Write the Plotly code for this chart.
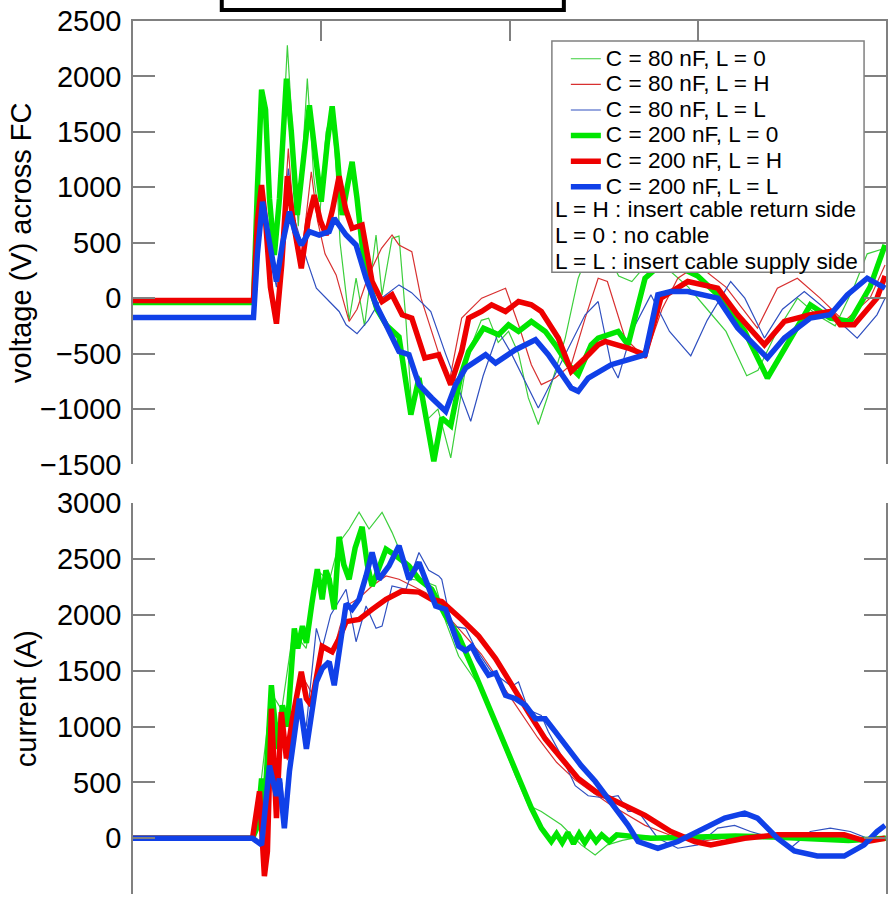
import plotly.graph_objects as go

# ---------------- voltage across FC (V) vs time (us) ----------------
t_v80_0 = [0, 6.4, 6.61, 6.83, 7.04, 7.3, 7.55, 7.85, 8.2, 8.5, 8.78, 9.26, 9.6, 9.9, 10.26, 10.58, 10.85, 11.0, 11.2, 11.48,
           11.85, 12.3, 12.91, 13.23, 13.76, 14.13, 14.5, 14.81, 15.2, 15.6, 16.2, 16.88, 17.3, 17.8, 18.5, 18.89, 19.4,
           19.95, 20.48, 21.0, 21.53, 22.0, 22.96, 23.65, 24.0, 24.5, 25.2, 25.8, 26.5, 27.5, 28.5, 29.5, 30.5, 31.5,
           32.6, 33.2, 34.2, 35.3, 36.3, 37.3, 38.3, 39.0, 39.95]
v80_0 = [-40, -40, 900, 1850, 1650, 800, 420, 1100, 2280, 1400, 650, 1980, 1100, 700, 1500, 1700, 1000, 500, 210, -200,
         180, -250, 570, 30, 540, 560, -200, -1000, -700, -1100, -1000, -1440, -1000, -500, -200, -180, -400,
         -300, -500, -900, -1140, -900, -360, 180, 330, 500, 400, 200, 150, 350, 250, 100, -100, -300,
         -700, -650, -300, 0, -150, -250, 100, 400, 450]

t_v80_h = [0, 6.4, 6.61, 6.83, 7.04, 7.3, 7.6, 7.9, 8.25, 8.5, 8.9, 9.47, 9.8, 10.2, 10.79, 11.48, 11.9, 12.5, 13.2,
           13.76, 14.13, 14.81, 15.3, 16.4, 16.77, 17.46, 18.52, 19.79, 20.48, 21.16, 21.69, 22.43, 23.28, 24.02,
           24.71, 25.2, 26.14, 27.2, 28.1, 28.94, 30.0, 31.5, 33.17, 34.23, 35.29, 36.5, 37.78, 39.15, 39.95]
v80_h = [-20, -20, 600, 1000, 600, 0, -200, 400, 1350, 800, 300, 1140, 700, 400, 210, -210, -100, 200, 450,
         570, 480, 420, 0, -600, -780, -180, 0, 90, -240, -600, -780, -720, -600, -180,
         180, 150, -360, -540, -100, 180, 300, 100, -270, 90, 180, 0, -210, 0, 300]

t_v80_l = [0, 6.4, 6.61, 6.88, 7.15, 7.62, 7.95, 8.25, 8.6, 9.26, 9.74, 10.26, 10.95, 11.32, 11.9, 12.5, 13.2, 14.13,
           14.8, 15.82, 16.6, 17.94, 18.6, 19.42, 20.1, 21.53, 22.4, 24.02, 24.71, 25.4, 25.77, 26.5, 27.51, 28.5,
           29.63, 30.5, 31.75, 32.5, 33.54, 34.5, 35.66, 36.8, 38.47, 39.52, 39.95]
v80_l = [-175, -175, 500, 870, 500, 100, 600, 1170, 700, 330, 90, 0, -120, -240, -320, -200, 0, 120,
         50, -120, -500, -1110, -700, -300, -500, -990, -700, -150, -30, -600, -720, -300, 30, -300,
         -520, -200, 150, 0, -360, -100, 60, -100, -360, -150, 0]

t_v200_0 = [0, 6.4, 6.61, 6.83, 7.04, 7.25, 7.51, 7.78, 8.15, 8.41, 8.73, 9.05, 9.37, 9.68, 10.0, 10.32, 10.58, 10.85,
            11.11, 11.38, 11.64, 11.9, 12.17, 12.43, 12.96, 13.49, 14.13, 14.76, 15.19, 15.98, 16.4, 16.88, 17.41,
            17.83, 18.62, 19.42, 19.95, 20.48, 21.16, 21.9, 22.43, 23.12, 23.65, 24.34, 24.71, 25.77, 26.3, 27.2,
            28.0, 29.0, 30.0, 31.06, 32.5, 33.7, 34.92, 35.98, 37.04, 38.1, 39.15, 39.95]
v200_0 = [-40, -40, 1000, 1880, 1700, 900, 390, 900, 1980, 1500, 750, 1300, 1740, 1300, 870, 1400, 1730, 1300,
          750, 1000, 1230, 900, 480, 200, -100, -250, -350, -1050, -720, -1470, -1080, -1150, -700,
          -480, -270, -330, -240, -300, -210, -300, -420, -600, -690, -420, -360, -300, -420, 180,
          300, 280, 200, 30, -300, -720, -360, -60, -180, -210, 100, 480]

t_v200_h = [0, 6.4, 6.61, 6.83, 7.04, 7.3, 7.62, 7.9, 8.2, 8.5, 8.94, 9.3, 9.63, 9.95, 10.26, 10.6, 10.95, 11.3, 11.64,
            12.17, 12.7, 13.23, 13.76, 14.3, 14.81, 15.5, 16.24, 16.88, 17.46, 17.83, 18.52, 19.05, 19.79, 20.48,
            21.16, 21.69, 22.59, 23.28, 24.02, 24.71, 25.08, 26.3, 27.2, 28.04, 29.47, 31.06, 32.12, 33.54, 34.6,
            35.98, 37.04, 37.57, 38.31, 39.52, 39.95]
v200_h = [-20, -20, 700, 1020, 700, 100, -230, 300, 1100, 700, 270, 700, 930, 700, 570, 800, 1100, 800, 630,
          660, 150, -30, 30, -150, -180, -540, -510, -780, -480, -180, -120, -60, -120, -30,
          -60, -120, -360, -660, -540, -420, -390, -450, -510, 0, 150, 90, -150, -420, -210,
          -150, -120, -240, -240, 0, 200]

t_v200_l = [0, 6.4, 6.61, 6.88, 7.15, 7.62, 7.95, 8.31, 8.6, 8.94, 9.37, 9.89, 10.42, 10.69, 11.32, 11.85, 12.38, 12.91,
            13.44, 14.13, 14.66, 15.19, 15.87, 16.61, 17.14, 17.67, 18.73, 19.26, 20.32, 21.38, 22.06, 23.28, 23.65,
            24.18, 25.4, 27.2, 27.88, 28.57, 29.47, 31.06, 32.12, 33.7, 34.6, 35.98, 37.04, 37.94, 39.0, 39.95]
v200_l = [-175, -175, 400, 870, 600, 150, 500, 780, 600, 480, 600, 570, 600, 720, 570, 480, 180, -60,
          -240, -480, -510, -780, -900, -1020, -780, -630, -510, -585, -465, -375, -510, -810, -840,
          -720, -600, -510, 30, 60, 60, 0, -270, -540, -360, -180, -150, 30, 180, 90]

# ---------------- current (A) vs time (us) ----------------
t_i80_0 = [0, 6.35, 6.8, 7.35, 7.9, 8.5, 9.2, 9.8, 10.42, 10.95, 11.48, 12.01, 12.54, 13.23, 13.76, 14.29, 14.81, 15.5,
           16.08, 16.61, 17.3, 18.36, 19.26, 20.32, 21.0, 21.69, 22.75, 23.81, 24.55, 25.2, 26.0, 27.2, 28.5, 30,
           32, 34, 36, 38, 40]
i80_0 = [0, 0, 500, 1300, 1150, 1850, 1700, 2400, 2300, 2650, 2770, 2920, 2770, 2920, 2740, 2530, 2320, 2300,
         2260, 1940, 1630, 1370, 1010, 560, 295, 240, 120, -60, -150, -60, -20, 20, 0, -10,
         20, 0, 20, -10, 0]

t_i80_h = [0, 6.35, 6.72, 7.0, 7.35, 7.62, 7.88, 8.2, 8.5, 9.0, 9.5, 10.0, 10.6, 11.0, 11.5, 12.0, 12.7, 13.44, 14.13,
           14.81, 15.56, 16.4, 17.46, 18.5, 19.5, 20.5, 21.5, 22.5, 23.5, 24.5, 25.4, 27.2, 28.94, 30.5, 32.5,
           34.5, 36.5, 38.5, 40]
i80_h = [0, 0, 400, -200, 1100, 200, 1100, 700, 1050, 1450, 1300, 1700, 1650, 1900, 2100, 2150, 2260, 2350, 2320,
         2260, 2200, 2050, 1850, 1650, 1400, 1150, 900, 680, 520, 400, 295, 115, 0, -20, 20,
         40, 20, 0, 10]

t_i80_l = [0, 6.35, 6.83, 7.25, 7.62, 7.9, 8.1, 8.4, 8.8, 9.2, 9.74, 10.05, 10.5, 11.32, 11.85, 12.38, 12.91, 13.23,
           13.76, 14.5, 15.19, 15.71, 16.24, 16.4, 16.93, 17.67, 18.2, 19.0, 20.11, 20.48, 21.0, 21.69, 22.06,
           22.75, 23.49, 24.18, 25.08, 25.77, 26.3, 26.83, 27.88, 28.94, 30.0, 31.06, 31.96, 32.8, 34.23, 34.92,
           35.98, 37.04, 38.1, 39.15, 39.95]
i80_l = [0, 0, -50, 600, 350, 500, 150, 700, 1200, 1000, 1880, 1700, 2000, 2230, 1760, 2080, 1880, 1900,
         2260, 2230, 2560, 2400, 2350, 2320, 1900, 1880, 1700, 1500, 1360, 1400, 1150, 1100, 955,
         740, 470, 380, 360, 380, 240, 240, 0, -90, -60, 90, 115, 60, -10, -90,
         60, 90, 60, -10, -20]

t_i200_0 = [0, 6.35, 6.6, 6.83, 7.0, 7.35, 7.45, 7.7, 7.94, 8.2, 8.57, 8.75, 9.0, 9.21, 9.5, 9.79, 10.05, 10.25, 10.42,
            10.69, 10.95, 11.2, 11.48, 11.8, 12.17, 12.45, 12.7, 13.07, 13.44, 13.97, 14.66, 15.19, 15.87, 16.61,
            17.3, 17.99, 18.73, 19.26, 19.95, 20.63, 21.16, 21.69, 22.22, 22.5, 22.8, 23.1, 23.4, 23.7, 24.0,
            24.3, 24.6, 24.9, 25.3, 25.7, 26.3, 27.5, 30, 32, 34, 36, 38, 40]
i200_0 = [0, 0, 100, 535, 300, 1370, 1190, 800, 1190, 1000, 1880, 1700, 1900, 1750, 2100, 2410, 2140, 2400, 2320,
          2050, 2700, 2450, 2320, 2600, 2790, 2450, 2260, 2440, 2590, 2530, 2440, 2320, 2230, 1990,
          1810, 1545, 1250, 1010, 740, 470, 270, 90, -30, 40, -40, 50, -50, 40, -40,
          40, -30, 30, -30, 30, 20, 0, 10, 20, 10, 0, -20, 0]

t_i200_h = [0, 6.35, 6.72, 6.98, 7.14, 7.35, 7.62, 7.88, 8.15, 8.47, 8.94, 9.21, 9.47, 10.05, 10.58, 10.95, 11.32, 12.01,
            12.7, 13.44, 14.29, 15.19, 15.87, 16.4, 17.46, 18.36, 19.26, 20.11, 21.0, 21.9, 22.75, 23.65, 24.55,
            25.61, 27.2, 28.57, 29.84, 30.69, 32.49, 34.23, 36, 37.78, 39.0, 39.95]
i200_h = [0, 0, 420, -340, -120, 1160, 180, 1130, 715, 1070, 1490, 1250, 1190, 1720, 1670, 1790, 1940, 1960,
          2050, 2140, 2215, 2205, 2140, 2120, 1960, 1810, 1610, 1370, 1130, 890, 715, 535, 420,
          330, 205, 60, -30, -60, 0, 30, 30, 30, -30, 0]

t_i200_l = [0, 6.35, 6.83, 7.25, 7.62, 7.78, 8.04, 8.31, 8.57, 8.84, 9.21, 9.5, 9.74, 10.05, 10.42, 10.69, 10.95, 11.32,
            11.64, 12.01, 12.38, 12.7, 13.07, 13.6, 14.13, 14.66, 15.19, 15.71, 16.08, 16.61, 17.3, 17.67, 17.99,
            18.36, 18.89, 19.26, 19.79, 20.32, 20.85, 21.38, 21.9, 22.43, 23.12, 23.81, 24.55, 25.24, 26.3, 26.83,
            27.88, 28.94, 30.37, 31.43, 32.49, 33.17, 34.23, 35.13, 36.35, 37.78, 38.84, 39.52, 39.95]
i200_l = [0, 0, -60, 650, 380, 535, 90, 600, 920, 1250, 800, 1100, 1400, 1520, 1580, 1370, 1700, 2100,
          2050, 2140, 2350, 2560, 2320, 2440, 2620, 2320, 2470, 2230, 2080, 2050, 1720, 1680, 1720,
          1600, 1460, 1480, 1280, 1250, 1190, 1070, 1070, 955, 800, 650, 510, 360, 115, -30,
          -90, -30, 90, 180, 225, 180, 0, -115, -160, -160, -60, 60, 115]

names = ["C = 80 nF, L = 0", "C = 80 nF, L = H", "C = 80 nF, L = L",
         "C = 200 nF, L = 0", "C = 200 nF, L = H", "C = 200 nF, L = L"]
notes = ["L = H : insert cable return side", "L = 0 : no cable", "L = L : insert cable supply side"]

thin_cols = ["#3ccf3c", "#d83030", "#3050c0"]
thick_cols = ["#00e600", "#ee0000", "#1040e8"]
colors = thin_cols + thick_cols
widths = [1.2, 1.2, 1.2, 5.5, 5.5, 5.5]

volt = [(t_v80_0, v80_0), (t_v80_h, v80_h), (t_v80_l, v80_l),
        (t_v200_0, v200_0), (t_v200_h, v200_h), (t_v200_l, v200_l)]
curr = [(t_i80_0, i80_0), (t_i80_h, i80_h), (t_i80_l, i80_l),
        (t_i200_0, i200_0), (t_i200_h, i200_h), (t_i200_l, i200_l)]

LEG_TXT = 22.6
fig = go.Figure()
for k in range(6):
    fig.add_trace(go.Scatter(x=volt[k][0], y=volt[k][1], mode="lines",
                             name='<span style="font-size:%.1fpx">%s</span>' % (LEG_TXT, names[k]),
                             line=dict(color=colors[k], width=widths[k]),
                             xaxis="x", yaxis="y"))
for k in range(6):
    fig.add_trace(go.Scatter(x=curr[k][0], y=curr[k][1], mode="lines", name=names[k],
                             line=dict(color=colors[k], width=widths[k]), showlegend=False,
                             xaxis="x2", yaxis="y2"))

FONT = "Arial, Liberation Sans, sans-serif"
axcol = "#808080"
W, H = 888, 910
ml, mr, mt, mb = 133, 0, 21, 13
pw, ph = W - ml - mr, H - mt - mb

def px(x):
    return (x - ml) / pw

def py(y):
    return (H - mb - y) / ph

top_dom = [py(466), 1.0]
bot_dom = [0.0, py(505)]

yaxis_common = dict(showline=True, linecolor=axcol, linewidth=1.5, mirror="ticks",
                    ticks="inside", ticklen=22, tickwidth=1.5, tickcolor=axcol,
                    showgrid=False, zeroline=False, dtick=500,
                    tickfont=dict(family=FONT, size=29, color="black"),
                    ticklabelstandoff=4)

fig.update_layout(
    width=W, height=H,
    margin=dict(l=ml, r=mr, t=mt, b=mb),
    paper_bgcolor="white", plot_bgcolor="white",
    font=dict(family=FONT, color="black"),
    xaxis=dict(domain=[0, 1], anchor="y", side="top", range=[0, 40], dtick=10,
               showline=True, linecolor=axcol, linewidth=1.5, mirror=False,
               ticks="inside", ticklen=20, tickwidth=1.5, tickcolor=axcol,
               showticklabels=False, showgrid=False, zeroline=False),
    xaxis2=dict(domain=[0, 1], anchor="y2", range=[0, 40], dtick=10, showline=False,
                ticks="", showticklabels=False, showgrid=False, zeroline=False),
    yaxis=dict(domain=top_dom, anchor="x", range=[-1500, 2500],
               title=dict(text="voltage (V) across FC", font=dict(family=FONT, size=29), standoff=0),
               **yaxis_common),
    yaxis2=dict(domain=bot_dom, anchor="x2", range=[-500, 3000],
                title=dict(text="current (A)", font=dict(family=FONT, size=29), standoff=12),
                **yaxis_common),
    showlegend=True,
    legend=dict(x=px(567), y=py(41), xanchor="left", yanchor="top",
                bgcolor="rgba(0,0,0,0)", borderwidth=0,
                font=dict(family=FONT, size=17.4, color="black"),
                tracegroupgap=0, itemwidth=30),
)

# legend frame
fig.add_shape(type="rect", xref="paper", yref="paper",
              x0=px(553), x1=px(866), y0=py(273), y1=py(41),
              fillcolor="white", line=dict(color=axcol, width=1.5), layer="above")
for j, txt in enumerate(notes):
    fig.add_annotation(xref="paper", yref="paper", x=px(554), y=py(210 + 26 * j),
                       xanchor="left", yanchor="middle", showarrow=False,
                       text=txt, font=dict(family=FONT, size=LEG_TXT, color="black"))

# cropped title box at the very top
fig.add_shape(type="rect", xref="paper", yref="paper",
              x0=px(222), x1=px(565), y0=py(10), y1=py(-20),
              line=dict(color="black", width=4), fillcolor="rgba(0,0,0,0)", layer="above")

fig.write_html("out.html")
